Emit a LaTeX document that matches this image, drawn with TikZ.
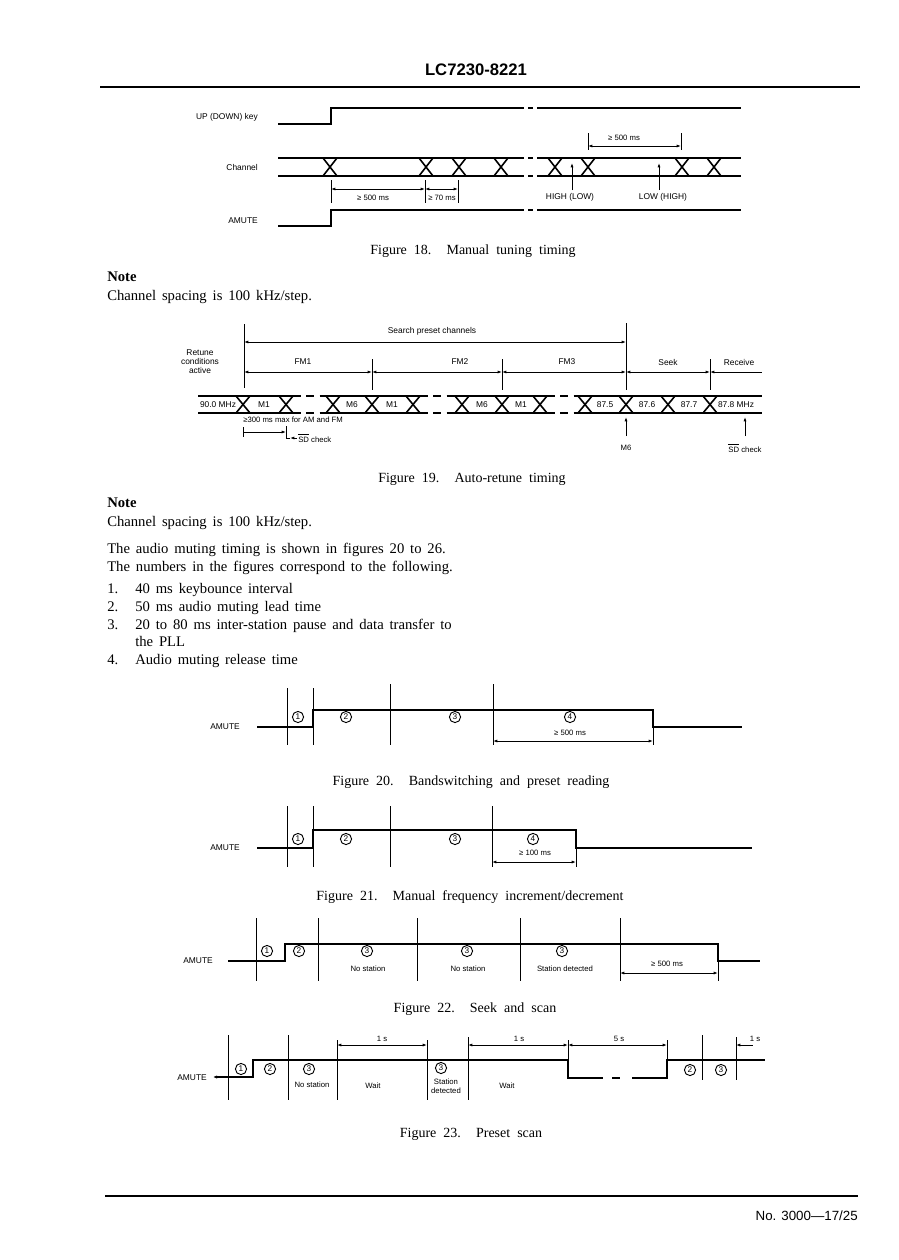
\documentclass[tikz,border=0pt]{standalone}
\usepackage{fontspec}
\setmainfont{Liberation Serif}
\setsansfont{Liberation Sans}
\usetikzlibrary{arrows.meta}
\newcommand\myLabFont{\sffamily\fontsize{6.3}{7.2}\selectfont}
\newcommand\mySmallFont{\sffamily\fontsize{5.8}{6.8}\selectfont}
\newcommand\myCircFont{\sffamily\fontsize{6.2}{6.2}\selectfont}
\newcommand\myBodyFont{\fontsize{11}{13}\selectfont\spaceskip=0.4em plus 0.1em\relax}
\newcommand\myCapFont{\fontsize{10.5}{12}\selectfont\spaceskip=0.5em plus 0.1em\relax}
\newcommand\SDbar{\ensuremath{\overline{\mbox{SD}}}}
\begin{document}
\begin{tikzpicture}[x=0.75pt,y=-0.75pt,
  sig/.style={line width=1.2pt},
  vl/.style={line width=0.7pt},
  dimarr/.style={line width=0.6pt,{Latex[length=3.2pt,width=2.2pt]}-{Latex[length=3.2pt,width=2.2pt]}},
  rarr/.style={line width=0.6pt,-{Latex[length=3.2pt,width=2.2pt]}},
  larr/.style={line width=0.6pt,{Latex[length=3.2pt,width=2.2pt]}-},
  lab/.style={font=\myLabFont, inner sep=0pt},
  slab/.style={font=\mySmallFont, inner sep=0pt},
  cn/.style={draw,circle,line width=0.7pt,minimum size=8.4pt,inner sep=0pt,font=\myCircFont},
  body/.style={font=\myBodyFont, inner sep=0pt, anchor=base west},
  figcap/.style={font=\myCapFont, inner sep=0pt, anchor=base},
  dsh/.style={line width=1.2pt, dash pattern=on 6pt off 4pt},
]
\useasboundingbox (0,0) rectangle (899,1260);

% ---------- header ----------
\node[font=\sffamily\bfseries\fontsize{12.5}{14}\selectfont, inner sep=0pt] (title) at (476,70) {LC7230-8221};
\draw[line width=1.8pt] (100,87) -- (860,87);

% ---------- Figure 18 ----------
\node[lab,anchor=east] (lupk) at (258,117) {UP (DOWN) key};
\draw[sig] (278,124) -- (331,124) -- (331,108) -- (524,108) (528,108) -- (533,108) (537,108) -- (741,108);
\node[lab,anchor=east] (lch) at (258,167) {Channel};
\draw[sig] (278,158) -- (524,158) (528,158) -- (533,158) (537,158) -- (741,158);
\draw[sig] (278,176) -- (524,176) (528,176) -- (533,176) (537,176) -- (741,176);
\foreach \c in {330,426,459,501,555,588,682,714}
  \draw[sig] (\c-7,158) -- (\c+7,176) (\c-7,176) -- (\c+7,158);
\draw[vl] (331,180) -- (331,203) (425,180) -- (425,203) (458,180) -- (458,203);
\draw[dimarr] (331,189) -- (425,189);
\draw[dimarr] (425,189) -- (458,189);
\node[slab] (d500a) at (373,198) {≥ 500 ms};
\node[slab] (d70) at (442,198) {≥ 70 ms};
\draw[vl] (588,133) -- (588,150) (681,133) -- (681,150);
\draw[dimarr] (588,146) -- (681,146);
\node[slab] (d500b) at (624,138) {≥ 500 ms};
\draw[rarr] (572,190) -- (572,163);
\node[lab] (hl) at (570,197) {HIGH (LOW)};
\draw[rarr] (659,190) -- (659,163);
\node[lab] (lh) at (663,197) {LOW (HIGH)};
\node[lab,anchor=east] (lam18) at (258,221) {AMUTE};
\draw[sig] (278,226) -- (331,226) -- (331,210) -- (524,210) (528,210) -- (533,210) (537,210) -- (741,210);
\node[figcap] (cap18) at (473,254) {Figure 18.~ Manual tuning timing};

\node[body,font=\myBodyFont\bfseries] (note1) at (107,281) {Note};
\node[body] (cs1) at (107,300) {Channel spacing is 100 kHz/step.};

% ---------- Figure 19 ----------
\draw[vl] (244,324) -- (244,388);
\draw[vl] (626,323) -- (626,390);
\draw[vl] (372,359) -- (372,390) (502,359) -- (502,390) (710,359) -- (710,390);
\draw[dimarr] (244,342) -- (626,342);
\node[lab] (sp) at (432,331) {Search preset channels};
\draw[dimarr] (244,372) -- (372,372);
\draw[dimarr] (372,372) -- (502,372);
\draw[dimarr] (502,372) -- (626,372);
\draw[dimarr] (626,372) -- (710,372);
\draw[larr] (710,372) -- (762,372);
\node[lab,align=center,font=\sffamily\fontsize{6.3}{6.8}\selectfont] (rca) at (200,362) {Retune\\conditions\\active};
\node[lab] (fm1) at (303,362) {FM1};
\node[lab] (fm2) at (460,362) {FM2};
\node[lab] (fm3) at (567,362) {FM3};
\node[lab] (seek) at (668,362) {Seek};
\node[lab] (recv) at (739,362) {Receive};
\foreach \y in {396,413} {
  \draw[sig] (198,\y) -- (293,\y) (326,\y) -- (420,\y) (455,\y) -- (547,\y) (578,\y) -- (762,\y);
  \draw[dsh] (293,\y) -- (326,\y) (420,\y) -- (455,\y) (547,\y) -- (578,\y);
}
\foreach \c in {243,286,333,372,413,462,502,540,585,626,668,710}
  \draw[sig] (\c-7,396) -- (\c+7,413) (\c-7,413) -- (\c+7,396);
\node[lab] (f90) at (218,404.5) {90.0 MHz};
\node[lab] (m1a) at (264,404.5) {M1};
\node[lab] (m6a) at (352,404.5) {M6};
\node[lab] (m1b) at (392,404.5) {M1};
\node[lab] (m6b) at (482,404.5) {M6};
\node[lab] (m1c) at (521,404.5) {M1};
\node[lab] (f875) at (605,404.5) {87.5};
\node[lab] (f876) at (647,404.5) {87.6};
\node[lab] (f877) at (689,404.5) {87.7};
\node[lab] (f878) at (736,404.5) {87.8 MHz};
\node[slab,anchor=west] (max300) at (243,420) {≥300 ms max for AM and FM};
\draw[vl] (243,427) -- (243,437);
\draw[rarr] (243,432) -- (286,432);
\draw[vl] (286,426) -- (286,438) -- (290,438);
\draw[larr] (290,438) -- (297,438);
\node[slab,anchor=west] (sd1) at (298,438) {\SDbar{} check};
\draw[rarr] (626,436) -- (626,417);
\node[slab] (m6c) at (626,448) {M6};
\draw[rarr] (745,436) -- (745,417);
\node[slab] (sd2) at (745,448) {\SDbar{} check};
\node[figcap] (cap19) at (472,482) {Figure 19.~ Auto-retune timing};

\node[body,font=\myBodyFont\bfseries] (note2) at (107,507) {Note};
\node[body] (cs2) at (107,526) {Channel spacing is 100 kHz/step.};
\node[body] (t1) at (107,553) {The audio muting timing is shown in figures 20 to 26.};
\node[body] (t2) at (107,571) {The numbers in the figures correspond to the following.};
\node[body] (n1) at (107,593) {1.};
\node[body] (i1) at (135,593) {40 ms keybounce interval};
\node[body] (n2) at (107,611) {2.};
\node[body] (i2) at (135,611) {50 ms audio muting lead time};
\node[body] (n3) at (107,629) {3.};
\node[body] (i3) at (135,629) {20 to 80 ms inter-station pause and data transfer to};
\node[body] (i3b) at (135,646) {the PLL};
\node[body] (n4) at (107,664) {4.};
\node[body] (i4) at (135,664) {Audio muting release time};

% ---------- Figure 20 ----------
\node[lab,anchor=east] (am20) at (240,727) {AMUTE};
\draw[sig] (257,727) -- (313,727) -- (313,710) -- (653,710) -- (653,727) -- (742,727);
\draw[vl] (287,688) -- (287,745) (313,688) -- (313,745) (390,684) -- (390,745) (493,684) -- (493,745) (653,727) -- (653,745);
\node[cn] (c20a) at (298,717) {1};
\node[cn] (c20b) at (346,717) {2};
\node[cn] (c20c) at (455,717) {3};
\node[cn] (c20d) at (570,717) {4};
\node[slab] (d20) at (570,733) {≥ 500 ms};
\draw[dimarr] (493,741) -- (653,741);
\node[figcap] (cap20) at (471,785) {Figure 20.~ Bandswitching and preset reading};

% ---------- Figure 21 ----------
\node[lab,anchor=east] (am21) at (240,848) {AMUTE};
\draw[sig] (257,848) -- (313,848) -- (313,830) -- (576,830) -- (576,848) -- (752,848);
\draw[vl] (287,806) -- (287,867) (313,806) -- (313,867) (390,806) -- (390,867) (492,806) -- (492,867) (576,848) -- (576,867);
\node[cn] (c21a) at (298,839) {1};
\node[cn] (c21b) at (346,839) {2};
\node[cn] (c21c) at (455,839) {3};
\node[cn] (c21d) at (533,839) {4};
\node[slab] (d21) at (535,853) {≥ 100 ms};
\draw[dimarr] (492,862) -- (576,862);
\node[figcap] (cap21) at (470,900) {Figure 21.~ Manual frequency increment/decrement};

% ---------- Figure 22 ----------
\node[lab,anchor=east] (am22) at (213,961) {AMUTE};
\draw[sig] (228,961) -- (285,961) -- (285,944) -- (718,944) -- (718,961) -- (760,961);
\draw[vl] (256,918) -- (256,981) (318,918) -- (318,981) (417,918) -- (417,981) (520,918) -- (520,981) (620,918) -- (620,981) (718,961) -- (718,981);
\node[cn] (c22a) at (267,951) {1};
\node[cn] (c22b) at (299,951) {2};
\node[cn] (c22c) at (367,951) {3};
\node[cn] (c22d) at (467,951) {3};
\node[cn] (c22e) at (562,951) {3};
\node[slab] (ns1) at (368,969) {No station};
\node[slab] (ns2) at (468,969) {No station};
\node[slab] (sdt) at (565,969) {Station detected};
\node[slab] (d22) at (667,964) {≥ 500 ms};
\draw[dimarr] (620,973) -- (718,973);
\node[figcap] (cap22) at (475,1012) {Figure 22.~ Seek and scan};

% ---------- Figure 23 ----------
\node[lab,anchor=east] (am23) at (207,1078) {AMUTE};
\draw[sig,{Latex[length=3pt,width=2.4pt]}-] (213,1077) -- (253,1077) -- (253,1060) -- (568,1060) -- (568,1078) -- (603,1078);
\draw[sig] (612,1078) -- (620,1078);
\draw[sig] (632,1078) -- (667,1078) -- (667,1060) -- (765,1060);
\draw[vl] (228,1035) -- (228,1100) (288,1035) -- (288,1100) (337,1040) -- (337,1100) (427,1040) -- (427,1100) (468,1037) -- (468,1100)
  (568,1040) -- (568,1060) (667,1040) -- (667,1060) (702,1035) -- (702,1080) (736,1037) -- (736,1080);
\draw[dimarr] (337,1045) -- (427,1045);
\draw[dimarr] (468,1045) -- (568,1045);
\draw[dimarr] (568,1045) -- (667,1045);
\draw[larr] (736,1045) -- (753,1045);
\node[slab] (s1a) at (382,1039) {1 s};
\node[slab] (s1b) at (519,1039) {1 s};
\node[slab] (s5) at (619,1039) {5 s};
\node[slab] (s1c) at (755,1039) {1 s};
\node[cn] (c23a) at (241,1069) {1};
\node[cn] (c23b) at (270,1069) {2};
\node[cn] (c23c) at (309,1069) {3};
\node[cn] (c23d) at (441,1068) {3};
\node[cn] (c23e) at (690,1070) {2};
\node[cn] (c23f) at (721,1070) {3};
\node[slab] (ns3) at (312,1085) {No station};
\node[slab] (w1) at (373,1086) {Wait};
\node[slab,align=center,font=\sffamily\fontsize{5.8}{6.6}\selectfont] (sdt2) at (446,1086) {Station\\detected};
\node[slab] (w2) at (507,1086) {Wait};
\node[figcap] (cap23) at (471,1137) {Figure 23.~ Preset scan};

% ---------- footer ----------
\draw[line width=0.8pt] (105,1196) -- (858,1196);
\node[font=\sffamily\fontsize{10}{12}\selectfont, anchor=east, inner sep=0pt] (pg) at (858,1216) {No. 3000—17/25};
\end{tikzpicture}
\end{document}
